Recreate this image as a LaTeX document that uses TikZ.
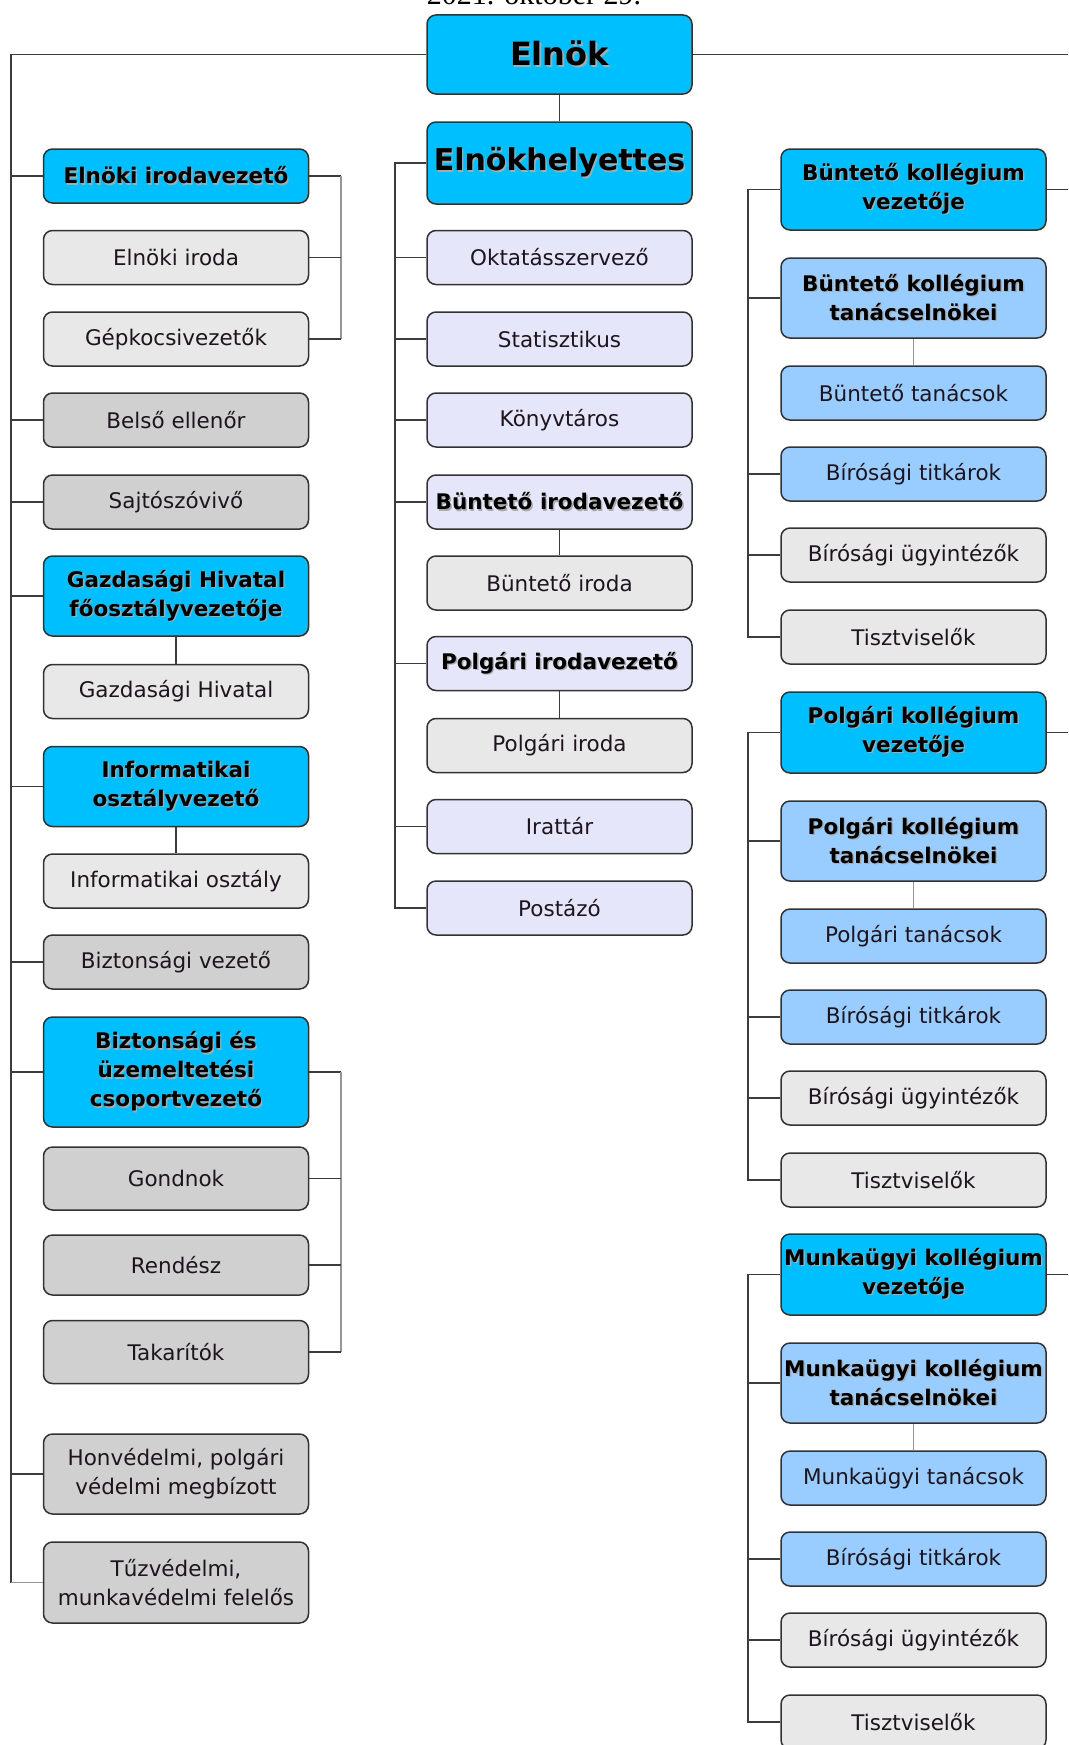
\documentclass[tikz,border=0pt]{standalone}
\usepackage{fontspec}
\setmainfont{DejaVu Sans}
\newfontfamily\titlefont{Liberation Serif}
\definecolor{cyanbox}{RGB}{0,191,255}
\definecolor{bluebox}{RGB}{153,204,255}
\definecolor{lgraybox}{RGB}{232,232,232}
\definecolor{mgraybox}{RGB}{208,208,208}
\definecolor{lavbox}{RGB}{230,230,250}
\definecolor{boxborder}{RGB}{50,50,50}
\definecolor{linec}{RGB}{60,60,60}
\definecolor{lightlinec}{RGB}{150,150,150}
\definecolor{textc}{RGB}{30,20,30}
\definecolor{shadowgray}{RGB}{170,170,170}
\newcommand\shd[1]{\leavevmode\rlap{\kern1.4pt\raisebox{-1.4pt}{\textcolor{shadowgray}{#1}}}#1}
\tikzset{
  box/.style={draw=boxborder, line width=1.5pt, rounded corners=9pt, align=center,
    inner sep=2pt, font=\fontsize{21.5}{29}\selectfont, text=textc},
  bbox/.style={box, font=\fontsize{21.5}{29}\selectfont\bfseries, text=black},
  colw/.style={minimum width=265pt},
  hs/.style={minimum height=54pt},
  hb/.style={minimum height=80pt},
  fcyan/.style={fill=cyanbox},
  fblue/.style={fill=bluebox},
  flg/.style={fill=lgraybox},
  fmg/.style={fill=mgraybox},
  flav/.style={fill=lavbox},
  conn/.style={draw=linec, line width=1.5pt},
  lconn/.style={draw=lightlinec, line width=1.5pt},
}
\begin{document}
\begin{tikzpicture}[x=1pt,y=-1pt]
\useasboundingbox (0,0) rectangle (1068,1745);
\coordinate (lx) at (11,0);
\coordinate (cx) at (395,0);
\coordinate (rx) at (748,0);
\coordinate (bx) at (341,0);
\coordinate (edge) at (1068,0);

\node[font=\titlefont\fontsize{30}{34}\selectfont, anchor=base] (title) at (534,5) {2021. október 29.};

% centre column
\node[bbox, fcyan, colw, minimum height=79pt, font=\fontsize{32}{36}\selectfont\bfseries] (elnok) at (559.5,54.5) {\shd{Elnök}};
\node[bbox, fcyan, colw, minimum height=82pt, font=\fontsize{30}{34}\selectfont\bfseries] (eh) at (559.5,163) {\shd{Elnökhelyettes}};
\node[box, flav, colw, hs] (okt) at (559.5,257.5) {Oktatásszervező};
\node[box, flav, colw, hs] (stat) at (559.5,339) {Statisztikus};
\node[box, flav, colw, hs] (kony) at (559.5,420) {Könyvtáros};
\node[bbox, flav, colw, hs] (bir) at (559.5,502) {\shd{Büntető irodavezető}};
\node[box, flg, colw, hs] (bi) at (559.5,583) {Büntető iroda};
\node[bbox, flav, colw, hs] (pir) at (559.5,663.5) {\shd{Polgári irodavezető}};
\node[box, flg, colw, hs] (pi) at (559.5,745.5) {Polgári iroda};
\node[box, flav, colw, hs] (ira) at (559.5,826.5) {Irattár};
\node[box, flav, colw, hs] (pos) at (559.5,908) {Postázó};

% left column
\node[bbox, fcyan, colw, hs] (eiv) at (176,176) {\shd{Elnöki irodavezető}};
\node[box, flg, colw, hs] (eir) at (176,257.5) {Elnöki iroda};
\node[box, flg, colw, hs] (gep) at (176,339) {Gépkocsivezetők};
\node[box, fmg, colw, hs] (bel) at (176,420) {Belső ellenőr};
\node[box, fmg, colw, hs] (saj) at (176,502) {Sajtószóvivő};
\node[bbox, fcyan, colw, hb] (gh) at (176,596) {\shd{Gazdasági Hivatal}\\\shd{főosztályvezetője}};
\node[box, flg, colw, hs] (ghh) at (176,691.5) {Gazdasági Hivatal};
\node[bbox, fcyan, colw, hb] (inf) at (176,786.5) {\shd{Informatikai}\\\shd{osztályvezető}};
\node[box, flg, colw, hs] (info) at (176,881) {Informatikai osztály};
\node[box, fmg, colw, hs] (bizv) at (176,962) {Biztonsági vezető};
\node[bbox, fcyan, colw, minimum height=110pt] (biz) at (176,1072) {\shd{Biztonsági és}\\\shd{üzemeltetési}\\\shd{csoportvezető}};
\node[box, fmg, colw, minimum height=63pt] (gon) at (176,1178.5) {Gondnok};
\node[box, fmg, colw, minimum height=60pt] (ren) at (176,1265) {Rendész};
\node[box, fmg, colw, minimum height=63pt] (tak) at (176,1352) {Takarítók};
\node[box, fmg, colw, hb] (hon) at (176,1474) {Honvédelmi, polgári\\védelmi megbízott};
\node[box, fmg, colw, minimum height=81pt] (tuz) at (176,1582.5) {Tűzvédelmi,\\munkavédelmi felelős};

% right column
\foreach \p/\T/\nm in {kb/149/Büntető, kp/692/Polgári, km/1234/Munkaügyi}{
  \node[bbox, fcyan, colw, minimum height=81pt] (\p-vez) at (913.5,\T+40.5) {\shd{\nm\ kollégium}\\\shd{vezetője}};
  \node[bbox, fblue, colw, hb] (\p-tel) at (913.5,\T+149) {\shd{\nm\ kollégium}\\\shd{tanácselnökei}};
  \node[box, fblue, colw, hs] (\p-tan) at (913.5,\T+244) {\nm\ tanácsok};
  \node[box, fblue, colw, hs] (\p-tit) at (913.5,\T+325) {Bírósági titkárok};
  \node[box, flg, colw, hs] (\p-ugy) at (913.5,\T+406) {Bírósági ügyintézők};
  \node[box, flg, colw, hs] (\p-tisz) at (913.5,\T+488) {Tisztviselők};
}

% connectors: top
\draw[conn] (elnok.west) -- (elnok.west -| lx) -- (tuz.west -| lx);
\draw[lconn] (tuz.west -| lx) -- (tuz.west);
\foreach \n in {eiv,bel,saj,gh,inf,bizv,biz,hon}
  \draw[conn] (\n.west -| lx) -- (\n.west);
\draw[conn] (elnok.east) -- (elnok.east -| edge);
\draw[conn] (elnok.south) -- (eh.north);

% centre column
\draw[conn] (eh.west) -- (eh.west -| cx) -- (pos.west -| cx) -- (pos.west);
\foreach \n in {okt,stat,kony,bir,pir,ira}
  \draw[conn] (\n.west -| cx) -- (\n.west);
\draw[conn] (bir.south) -- (bi.north);
\draw[conn] (pir.south) -- (pi.north);

% left brackets
\draw[conn] (eiv.east) -- (eiv.east -| bx);
\draw[lconn] (eiv.east -| bx) -- (gep.east -| bx);
\draw[conn] (eir.east) -- (eir.east -| bx);
\draw[conn] (gep.east) -- (gep.east -| bx);
\draw[conn] (gh.south) -- (ghh.north);
\draw[conn] (inf.south) -- (info.north);
\draw[conn] (biz.east) -- (biz.east -| bx);
\draw[lconn] (biz.east -| bx) -- (tak.east -| bx);
\foreach \n in {gon,ren,tak}
  \draw[conn] (\n.east) -- (\n.east -| bx);

% right groups
\foreach \p in {kb,kp,km}{
  \draw[conn] (\p-vez.west) -- (\p-vez.west -| rx) -- (\p-tisz.west -| rx) -- (\p-tisz.west);
  \foreach \q in {tel,tit,ugy}
    \draw[conn] (\p-\q.west -| rx) -- (\p-\q.west);
  \draw[lconn] (\p-tel.south) -- (\p-tan.north);
  \draw[conn] (\p-vez.east) -- (\p-vez.east -| edge);
}
\end{tikzpicture}
\end{document}
